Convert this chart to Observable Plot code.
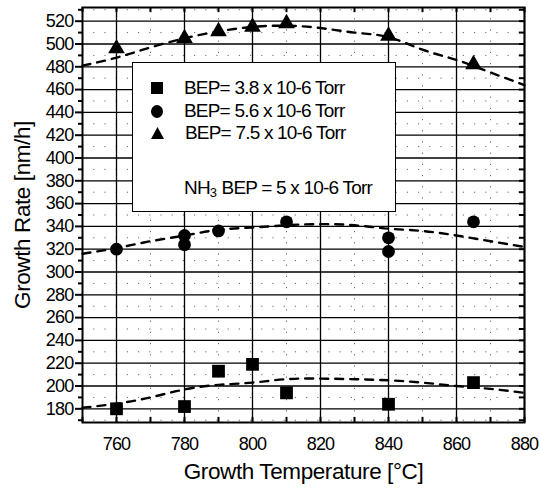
<!DOCTYPE html>
<html>
<head>
<meta charset="utf-8">
<script src="https://cdn.jsdelivr.net/npm/d3@7"></script>
<script src="https://cdn.jsdelivr.net/npm/@observablehq/plot@0.6"></script>
<style>
  html, body { margin: 0; padding: 0; background: #fff; }
  #wrap { position: relative; width: 539px; height: 499px; font-family: "Liberation Sans", Arial, sans-serif; }
  #legend { position: absolute; left: 132px; top: 62px; width: 264px; height: 150px; background: #fff; border: 1.5px solid #000; box-sizing: border-box; }
  .row { position: absolute; left: 0; height: 22px; display: flex; align-items: center; font-size: 19px; letter-spacing: -0.8px; color: #000; white-space: nowrap; }
  .row svg { margin-left: 18px; margin-right: 21px; flex: none; }
</style>
</head>
<body>
<div id="wrap"></div>
<script>
// ---- data ----
const sqT = [760, 780, 790, 800, 810, 840, 865];
const sqRate = [180, 182, 213, 219, 194, 184, 203];
const ciT = [760, 780, 780, 790, 810, 840, 840, 865];
const ciRate = [320, 324, 332, 336, 344, 330, 318, 344];
const trT = [760, 780, 790, 800, 810, 840, 865];
const trRate = [496, 505, 511, 515, 518, 507, 482];
const fitT = [750, 760, 770, 780, 790, 800, 810, 820, 830, 840, 850, 860, 870, 880];
const fitLow = [181, 184.5, 190, 197, 201, 203, 206, 206.5, 206, 205, 203, 200, 197.5, 194];
const fitMid = [316, 321, 327, 332, 337, 339, 341, 342, 341, 338, 336, 332, 327, 322];
const fitHigh = [481, 488, 497, 505, 511, 515, 516, 514, 510, 506, 495, 486, 475, 464];
const xTicks = [760, 780, 800, 820, 840, 860, 880];
const yTicks = [180, 200, 220, 240, 260, 280, 300, 320, 340, 360, 380, 400, 420, 440, 460, 480, 500, 520];
const legendLabels = ["BEP= 3.8 x 10-6 Torr", "BEP= 5.6 x 10-6 Torr", "BEP= 7.5 x 10-6 Torr"];

const pts = (xs, ys) => xs.map((x, i) => ({x, y: ys[i]}));
const squares = pts(sqT, sqRate);
const circles = pts(ciT, ciRate);
const triangles = pts(trT, trRate);
const fits = [fitLow, fitMid, fitHigh].map(f => pts(fitT, f));

const xDomain = [750, 880];
const yDomain = [168, 532];
const xMinor = d3.range(750, 881, 10);
const yMinor = d3.range(170, 531, 10);
const yMinorOnly = yMinor.filter(v => v % 20 !== 0);

const chart = Plot.plot({
  width: 539,
  height: 499,
  marginLeft: 82,
  marginRight: 15,
  marginTop: 7,
  marginBottom: 77,
  style: {fontFamily: "Liberation Sans, Arial, sans-serif", fontSize: "18px", color: "#000", background: "#fff"},
  x: {domain: xDomain},
  y: {domain: yDomain},
  marks: [
    // dotted minor grid
    Plot.gridX(xMinor.filter(v => v % 20 !== 0), {stroke: "#444", strokeOpacity: 0.8, strokeDasharray: "1.2,10"}),
    Plot.gridY(yMinorOnly, {stroke: "#444", strokeOpacity: 0.8, strokeDasharray: "1.2,10"}),
    // major grid
    Plot.gridX(xTicks, {stroke: "#000", strokeOpacity: 1, strokeWidth: 1.3}),
    Plot.gridY(yTicks, {stroke: "#000", strokeOpacity: 1, strokeWidth: 1.3}),
    // inward ticks: bottom, top, right
    Plot.ruleX(xMinor, {y1: yDomain[0], y2: yDomain[0] + 4.5, stroke: "#000", strokeWidth: 2}),
    Plot.ruleX(xMinor, {y1: yDomain[1] - 4.5, y2: yDomain[1], stroke: "#000", strokeWidth: 2}),
    Plot.ruleY(yMinor, {x1: xDomain[1] - 1.5, x2: xDomain[1], stroke: "#000", strokeWidth: 2}),
    // left axis (outward ticks)
    Plot.axisY(yTicks, {tickSize: 7, tickPadding: 2, fontSize: 18, strokeWidth: 2, label: "Growth Rate [nm/h]", labelAnchor: "center", labelOffset: 68, labelArrow: "none"}),
    Plot.axisY(yMinorOnly, {tickSize: 4, strokeWidth: 2, tickFormat: () => "", label: null}),
    Plot.axisX(xTicks, {tickSize: 0, tickPadding: 15, fontSize: 18, label: "Growth Temperature [°C]", labelAnchor: "center", labelOffset: 56, labelArrow: "none"}),
    // fitted dashed curves
    ...fits.map(f => Plot.line(f, {x: "x", y: "y", curve: "natural", stroke: "#000", strokeWidth: 2.4, strokeDasharray: "8,7"})),
    // data
    Plot.dot(squares, {x: "x", y: "y", symbol: "square", r: 7.2, fill: "#000", stroke: "none"}),
    Plot.dot(circles, {x: "x", y: "y", symbol: "circle", r: 6.4, fill: "#000", stroke: "none"}),
    Plot.dot(triangles, {x: "x", y: "y", symbol: "triangle", r: 6.2, fill: "#000", stroke: "none"}),
    Plot.frame({stroke: "#000", strokeWidth: 2})
  ]
});

const wrap = document.getElementById("wrap");
wrap.appendChild(chart);
chart.querySelectorAll('[aria-label="y-axis label"] text, [aria-label="x-axis label"] text').forEach(t => {
  t.style.fontSize = "22.5px";
  t.style.letterSpacing = "-0.4px";
});
chart.querySelectorAll('[aria-label="y-axis tick label"] text, [aria-label="x-axis tick label"] text').forEach(t => {
  t.style.letterSpacing = "-0.8px";
});

// legend overlay
const legend = document.createElement("div");
legend.id = "legend";
const shapes = [
  '<svg width="12" height="12"><rect x="0" y="0" width="12" height="12" fill="#000"/></svg>',
  '<svg width="12" height="13"><ellipse cx="6" cy="6.5" rx="6" ry="6.5" fill="#000"/></svg>',
  '<svg width="13" height="12"><path d="M6.5 0 L13 12 L0 12 Z" fill="#000"/></svg>'
];
const rowTops = [14, 37, 59];
legendLabels.forEach((lab, i) => {
  const r = document.createElement("div");
  r.className = "row";
  r.style.top = rowTops[i] + "px";
  r.innerHTML = shapes[i] + "<span>" + lab + "</span>";
  legend.appendChild(r);
});
const nh = document.createElement("div");
nh.className = "row";
nh.style.top = "114px";
nh.style.left = "51px";
nh.innerHTML = 'NH<sub style="font-size:13px;position:relative;top:4px;letter-spacing:0;vertical-align:baseline">3</sub>&nbsp;BEP = 5 x 10-6 Torr';
legend.appendChild(nh);
wrap.appendChild(legend);
</script>
</body>
</html>
